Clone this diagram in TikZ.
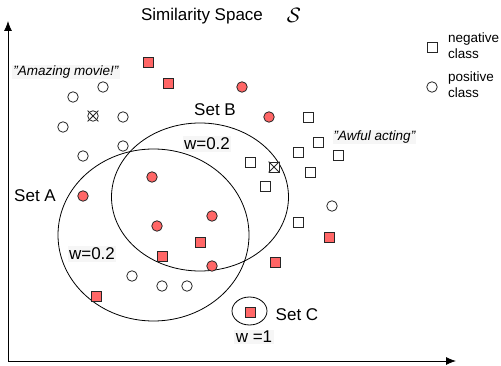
\documentclass[tikz,border=0pt]{standalone}
\usepackage{fontspec}
\setmainfont{Liberation Sans}
\usetikzlibrary{shapes.geometric,shapes.misc,arrows.meta}
\definecolor{redfill}{RGB}{255,102,102}
\definecolor{labelbg}{RGB}{246,246,246}
\newcommand{\dq}{\symbol{34}}
\begin{document}
\begin{tikzpicture}[x=1pt,y=-1pt,
  every node/.style={inner sep=0pt},
  ptmark/.style={draw=black!85,line width=0.8pt,fill=white},
  posdot/.style={ptmark,circle,minimum size=10.5pt},
  negbox/.style={ptmark,rectangle,minimum size=10pt},
  posred/.style={posdot,fill=redfill},
  negred/.style={negbox,fill=redfill},
  xmark/.style={draw=black!85,line width=0.8pt,cross out,minimum size=10pt},
  setring/.style={draw,ellipse,line width=0.8pt},
  biglabel/.style={font=\fontsize{17}{20}\selectfont},
  smalllabel/.style={font=\fontsize{13.5}{16}\selectfont},
  quotelabel/.style={font=\fontsize{13.5}{16}\selectfont\itshape,fill=labelbg,inner sep=1pt},
  weightlabel/.style={biglabel,fill=labelbg,inner sep=1.5pt},
  axisline/.style={line width=0.8pt,-{Latex[length=10pt,width=8pt]}}
]
\useasboundingbox (0,0) rectangle (501,366);

% axes
\coordinate (origin) at (8,361);
\coordinate (ytip) at (8,21);
\coordinate (xtip) at (456,361);
\draw[axisline] (origin) -- (ytip);
\draw[axisline] (origin) -- (xtip);

% title
\node[biglabel] (title) at (202,16) {Similarity Space};
\node[font=\fontsize{22}{24}\selectfont] (calS) at (294,15) {$\mathcal{S}$};

% legend
\node[negbox] (legneg) at (432,47) {};
\node[smalllabel,anchor=west,align=left] (legnegtxt) at (448,46) {negative\\class};
\node[posdot] (legpos) at (432,87) {};
\node[smalllabel,anchor=west,align=left] (legpostxt) at (448,85) {positive\\class};

% sets
\node[setring,minimum width=191pt,minimum height=172pt] (setA) at (153.5,235) {};
\node[setring,minimum width=177pt,minimum height=148pt] (setB) at (200,197) {};
\node[setring,minimum width=35pt,minimum height=28pt] (setC) at (249.5,311) {};

% positive class, highlighted
\node[posred] (pr1) at (242,87) {};
\node[posred] (pr2) at (269,117) {};
\node[posred] (pr3) at (152,177) {};
\node[posred] (pr4) at (83,196) {};
\node[posred] (pr5) at (212,216) {};
\node[posred] (pr6) at (157,226) {};
\node[posred] (pr7) at (212,266) {};

% negative class, highlighted
\node[negred] (nr1) at (148,62) {};
\node[negred] (nr2) at (168,83) {};
\node[negred] (nr3) at (200,242) {};
\node[negred] (nr4) at (162,256) {};
\node[negred] (nr5) at (96,296) {};
\node[negred] (nr6) at (329,237) {};
\node[negred] (nr7) at (275,262) {};
\node[negred] (nr8) at (250,312) {};

% positive class
\node[posdot] (p1) at (103,87) {};
\node[posdot] (p2) at (73,97) {};
\node[posdot] (p3) at (123,117) {};
\node[posdot] (p4) at (63,127) {};
\node[posdot] (p5) at (123,146) {};
\node[posdot] (p6) at (83,156) {};
\node[posdot] (p7) at (132,276) {};
\node[posdot] (p8) at (162,286) {};
\node[posdot] (p9) at (187,286) {};
\node[posdot] (p10) at (332,206) {};
\node[posdot] (px) at (93,116) {};
\node[xmark] (pxcross) at (px) {};

% negative class
\node[negbox] (n1) at (308,117) {};
\node[negbox] (n2) at (318,142) {};
\node[negbox] (n3) at (298,152) {};
\node[negbox] (n4) at (338,155) {};
\node[negbox] (n5) at (310,172) {};
\node[negbox] (n6) at (250,162) {};
\node[negbox] (n7) at (265,186) {};
\node[negbox] (n8) at (298,222) {};
\node[negbox] (nx) at (274,167) {};
\node[xmark] (nxcross) at (nx) {};

% labels
\node[quotelabel] (amazing) at (66,72) {\dq Amazing movie!\dq};
\node[quotelabel] (awful) at (374.5,137) {\dq Awful acting\dq};
\node[biglabel] (labA) at (35,196) {Set A};
\node[biglabel] (labB) at (215,110) {Set B};
\node[biglabel] (labC) at (297,315) {Set C};
\node[weightlabel] (wB) at (207,144) {w=0.2};
\node[weightlabel] (wA) at (92,254) {w=0.2};
\node[weightlabel] (wC) at (254,337) {w =1};
\end{tikzpicture}
\end{document}
